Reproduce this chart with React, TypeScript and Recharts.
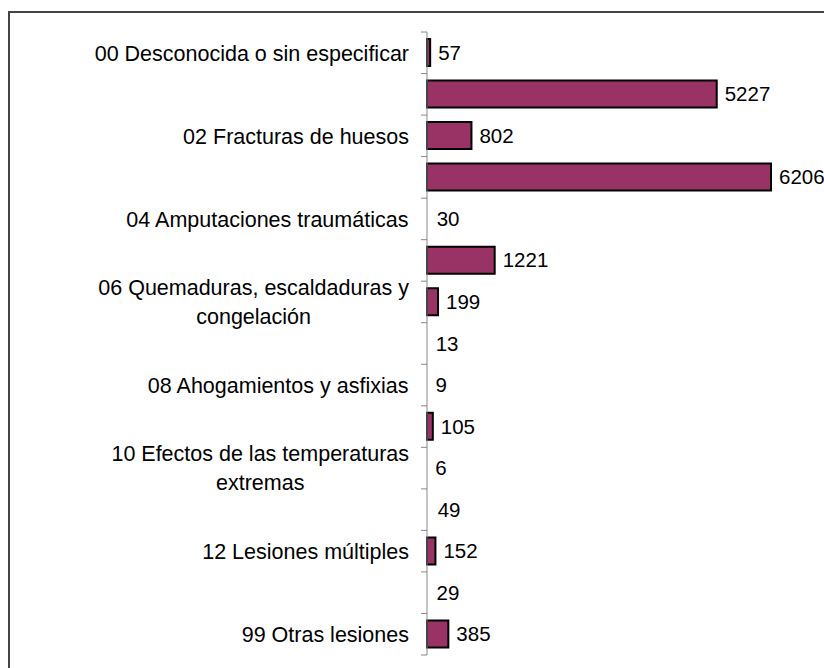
import React from 'react';
import { BarChart, Bar, XAxis, YAxis, LabelList, Rectangle } from 'recharts';

const categories = [
  '00 Desconocida o sin especificar',
  '01 Heridas y lesiones superficiales',
  '02 Fracturas de huesos',
  '03 Dislocaciones, esguinces y torceduras',
  '04 Amputaciones traumáticas',
  '05 Conmociones y lesiones internas',
  '06 Quemaduras, escaldaduras y congelación',
  '07 Envenenamientos e infecciones',
  '08 Ahogamientos y asfixias',
  '09 Efectos del ruido, la vibración y la presión',
  '10 Efectos de las temperaturas extremas',
  '11 Trauma psíquico, choque traumático',
  '12 Lesiones múltiples',
  '13 Infartos, derrames cerebrales y otras patologías no traumáticas',
  '99 Otras lesiones',
];

const values = [57, 5227, 802, 6206, 30, 1221, 199, 13, 9, 105, 6, 49, 152, 29, 385];

const data = categories.map((name, i) => ({ name, value: values[i] }));

const FONT = '"Liberation Sans", Arial, sans-serif';
const TICK_FS = 21.5;
const LABEL_FS = 20.5;
const AXIS_W = 427;
const TOP = 32;
const PLOT_H = 623;
const CHART_W = 860;
const CHART_H = 700;
const BAND = PLOT_H / categories.length;

let ctx: CanvasRenderingContext2D | null = null;
const measure = (s: string) => {
  if (!ctx) ctx = document.createElement('canvas').getContext('2d');
  if (!ctx) return s.length * TICK_FS * 0.5;
  ctx.font = `${TICK_FS}px ${FONT}`;
  return ctx.measureText(s).width;
};

const wrap = (s: string, max: number) => {
  const lines: string[] = [];
  let cur = '';
  s.split(' ').forEach((w) => {
    const next = cur ? cur + ' ' + w : w;
    if (cur && measure(next) > max) {
      lines.push(cur);
      cur = w;
    } else cur = next;
  });
  if (cur) lines.push(cur);
  return lines;
};

const CategoryTick = (props: any) => {
  const { x, y, payload, index } = props;
  const ticks = [
    <line key="t" x1={x - 6} x2={x} y1={y - BAND / 2} y2={y - BAND / 2} stroke="#888" />,
  ];
  if (index === categories.length - 1) {
    ticks.push(<line key="b" x1={x - 6} x2={x} y1={y + BAND / 2} y2={y + BAND / 2} stroke="#888" />);
  }
  if (index % 2 !== 0) return <g>{ticks}</g>;
  const lines = wrap(payload.value, 335);
  const blockW = Math.max(...lines.map(measure));
  const right = x - 18;
  const lh = 29;
  return (
    <g>
      {ticks}
      {lines.map((l, i) => (
        <text
          key={i}
          x={right - blockW / 2}
          y={y + TICK_FS * 0.36 + (i - (lines.length - 1) / 2) * lh}
          textAnchor="middle"
          fontSize={TICK_FS}
          fontFamily={FONT}
          fill="#000"
        >
          {l}
        </text>
      ))}
    </g>
  );
};

const BarShape = (props: any) => (props.width < 3 ? <g /> : <Rectangle {...props} />);

export default function App() {
  return (
    <div
      style={{
        position: 'fixed',
        left: 0,
        top: 0,
        width: 824,
        height: 668,
        overflow: 'hidden',
        background: '#fff',
      }}
    >
      <div
        style={{
          position: 'absolute',
          left: 8,
          top: 11,
          width: 900,
          height: 700,
          border: '2px solid #444',
          boxSizing: 'border-box',
        }}
      />
      <div style={{ position: 'absolute', left: 0, top: 0 }}>
        <BarChart
          width={CHART_W}
          height={CHART_H}
          data={data}
          layout="vertical"
          margin={{ top: TOP, right: CHART_W - AXIS_W - 388, bottom: CHART_H - TOP - PLOT_H, left: 0 }}
          barSize={27}
        >
          <XAxis type="number" domain={[0, 7000]} hide />
          <YAxis
            type="category"
            dataKey="name"
            width={AXIS_W}
            interval={0}
            tickLine={false}
            tickSize={0}
            tickMargin={0}
            axisLine={{ stroke: '#888' }}
            tick={<CategoryTick />}
          />
          <Bar
            dataKey="value"
            fill="#993366"
            stroke="#000"
            strokeWidth={2}
            shape={<BarShape />}
            isAnimationActive={false}
          >
            <LabelList
              dataKey="value"
              position="right"
              offset={8}
              fill="#000"
              fontSize={LABEL_FS}
              fontFamily={FONT}
            />
          </Bar>
        </BarChart>
      </div>
    </div>
  );
}
